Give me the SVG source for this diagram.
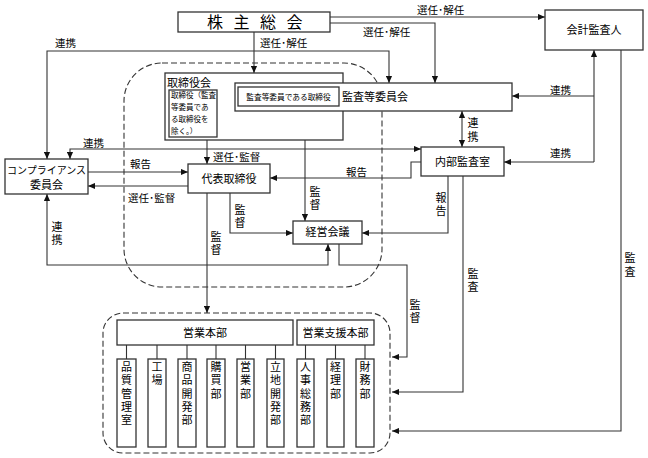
<svg xmlns="http://www.w3.org/2000/svg" width="648" height="458" viewBox="0 0 648 458">
<defs>
<marker id="ah" viewBox="0 0 8 8" refX="8" refY="4" markerWidth="7" markerHeight="7" markerUnits="userSpaceOnUse" orient="auto-start-reverse">
<path d="M0,0.5 L8,4 L0,7.5 Z" fill="#111"/>
</marker>
<style>
text{font-family:"Liberation Sans","Noto Sans CJK JP",sans-serif;fill:#000}
.box{fill:#fff;stroke:#333;stroke-width:1.3}
.dash{fill:none;stroke:#333;stroke-width:1.1;stroke-dasharray:6,3}
.c{fill:none;stroke:#333;stroke-width:1.1}
.a{marker-end:url(#ah)}
.b{marker-start:url(#ah);marker-end:url(#ah)}
.l{font-size:10.5px}
.n{font-size:11px;text-anchor:middle}
.v{font-size:11px;text-anchor:middle}
</style>
</defs>
<rect width="648" height="458" fill="#fff"/>

<g id="region-board">
<rect class="dash" x="124" y="63" width="258" height="224" rx="38" ry="38"/>
</g>
<g id="region-ops">
<rect class="dash" x="103" y="313" width="287" height="140" rx="20" ry="20"/>
</g>

<g id="connectors">
<polyline class="c a" points="330,17 545,17"/>
<polyline class="c a" points="330,23 435,23 435,83"/>
<polyline class="c a" points="254,32 254,73"/>
<polyline class="c b" points="389,83 389,51 47,51 47,159"/>
<polyline class="c b" points="70,159 70,149 421,149"/>
<polyline class="c a" points="207,140 207,164"/>
<polyline class="c a" points="305,140 305,221"/>
<polyline class="c a" points="238,99 217,99"/>
<polyline class="c b" points="462,111 462,147"/>
<polyline class="c" points="594,50 594,162" style="marker-start:url(#ah)"/>
<polyline class="c a" points="594,96 512,96"/>
<polyline class="c a" points="594,162 504,162"/>
<polyline class="c a" points="88,172 188,172"/>
<polyline class="c a" points="188,186 88,186"/>
<polyline class="c a" points="421,162 411,162 411,178 270,178"/>
<polyline class="c a" points="448,176 448,233 362,233"/>
<polyline class="c a" points="230,193 230,233 293,233"/>
<polyline class="c a" points="207,193 207,313"/>
<polyline class="c b" points="47,194 47,265 328,265 328,244"/>
<polyline class="c a" points="339,244 339,265 407,265 407,357 392,357"/>
<polyline class="c a" points="463,176 463,392 392,392"/>
<polyline class="c a" points="621,50 621,431 392,431"/>
<path class="c" d="M126.5,345V359M157,345V359M187,345V359M216,345V359M245.5,345V359M275.5,345V359M305.5,345V359M335.5,345V359M365,345V359"/>
</g>

<g id="labels">
<text class="l" x="417" y="14">選任･解任</text>
<text class="l" x="363" y="36">選任･解任</text>
<text class="l" x="260" y="47">選任･解任</text>
<text class="l" x="55" y="47">連携</text>
<text class="l" x="83" y="147">連携</text>
<text class="l" x="213" y="161">選任･監督</text>
<text class="l" x="218" y="125">監査･監督</text>
<text class="l" x="550" y="94">連携</text>
<text class="l" x="550" y="157">連携</text>
<text class="l" x="130" y="168">報告</text>
<text class="l" x="128" y="202">選任･監督</text>
<text class="l" x="346" y="176">報告</text>
<text class="v" x="473" y="127">連</text><text class="v" x="473" y="141">携</text>
<text class="v" x="315" y="196">監</text><text class="v" x="315" y="209">督</text>
<text class="v" x="441" y="202">報</text><text class="v" x="441" y="215">告</text>
<text class="v" x="240" y="214">監</text><text class="v" x="240" y="227">督</text>
<text class="v" x="216" y="241">監</text><text class="v" x="216" y="254">督</text>
<text class="v" x="57" y="231">連</text><text class="v" x="57" y="244">携</text>
<text class="v" x="415" y="309">監</text><text class="v" x="415" y="322">督</text>
<text class="v" x="473" y="278">監</text><text class="v" x="473" y="291">査</text>
<text class="v" x="630" y="262">監</text><text class="v" x="630" y="276">査</text>
</g>

<g id="kabunushi">
<rect class="box" x="178" y="12" width="152" height="20"/>
<text x="207" y="28" style="font-size:16px;letter-spacing:10.5px">株主総会</text>
</g>
<g id="kaikei">
<rect class="box" x="545" y="10" width="98" height="40"/>
<text class="n" x="594" y="34">会計監査人</text>
</g>
<g id="torishimariyakukai">
<rect class="box" x="165" y="73" width="178" height="67"/>
<text x="167" y="87" style="font-size:11px">取締役会</text>
</g>
<g id="torishimariyaku">
<rect class="box" x="169" y="90" width="48" height="47"/>
<text style="font-size:7.5px"><tspan x="171" y="98">取締役（監査</tspan><tspan x="171" y="110">等委員であ</tspan><tspan x="171" y="122">る取締役を</tspan><tspan x="171" y="134">除く。）</tspan></text>
</g>
<g id="kansatou">
<rect class="box" x="235" y="83" width="277" height="28"/>
<rect class="box" x="238" y="87" width="101" height="19"/>
<text x="288.5" y="99.5" style="font-size:7.7px;text-anchor:middle">監査等委員である取締役</text>
<text x="342" y="101" style="font-size:11px">監査等委員会</text>
</g>
<g id="compliance">
<rect class="box" x="5" y="159" width="83" height="35"/>
<text class="n" x="46.5" y="174" style="font-size:10px">コンプライアンス</text>
<text class="n" x="46.5" y="189">委員会</text>
</g>
<g id="daihyou">
<rect class="box" x="188" y="164" width="82" height="29"/>
<text class="n" x="229" y="183">代表取締役</text>
</g>
<g id="naibu">
<rect class="box" x="421" y="147" width="83" height="29"/>
<text class="n" x="462.5" y="166">内部監査室</text>
</g>
<g id="keiei">
<rect class="box" x="293" y="221" width="69" height="23"/>
<text class="n" x="327.5" y="236">経営会議</text>
</g>
<g id="eigyohonbu">
<rect class="box" x="117" y="320" width="176" height="25"/>
<text class="n" x="205" y="337">営業本部</text>
</g>
<g id="shienhonbu">
<rect class="box" x="297" y="320" width="77" height="25"/>
<text class="n" x="335.5" y="337">営業支援本部</text>
</g>
<g id="depts">
<rect class="box" x="117" y="359" width="19" height="88"/>
<rect class="box" x="148" y="359" width="18" height="88"/>
<rect class="box" x="178" y="359" width="18" height="88"/>
<rect class="box" x="207" y="359" width="18" height="88"/>
<rect class="box" x="237" y="359" width="17" height="88"/>
<rect class="box" x="267" y="359" width="17" height="88"/>
<rect class="box" x="297" y="359" width="17" height="88"/>
<rect class="box" x="327" y="359" width="17" height="88"/>
<rect class="box" x="356" y="359" width="18" height="88"/>
<text class="v"><tspan x="126.5" y="371">品</tspan><tspan x="126.5" dy="13.3">質</tspan><tspan x="126.5" dy="13.3">管</tspan><tspan x="126.5" dy="13.3">理</tspan><tspan x="126.5" dy="13.3">室</tspan></text>
<text class="v"><tspan x="157" y="371">工</tspan><tspan x="157" dy="13.3">場</tspan></text>
<text class="v"><tspan x="187" y="371">商</tspan><tspan x="187" dy="13.3">品</tspan><tspan x="187" dy="13.3">開</tspan><tspan x="187" dy="13.3">発</tspan><tspan x="187" dy="13.3">部</tspan></text>
<text class="v"><tspan x="216" y="371">購</tspan><tspan x="216" dy="13.3">買</tspan><tspan x="216" dy="13.3">部</tspan></text>
<text class="v"><tspan x="245.5" y="371">営</tspan><tspan x="245.5" dy="13.3">業</tspan><tspan x="245.5" dy="13.3">部</tspan></text>
<text class="v"><tspan x="275.5" y="371">立</tspan><tspan x="275.5" dy="13.3">地</tspan><tspan x="275.5" dy="13.3">開</tspan><tspan x="275.5" dy="13.3">発</tspan><tspan x="275.5" dy="13.3">部</tspan></text>
<text class="v"><tspan x="305.5" y="371">人</tspan><tspan x="305.5" dy="13.3">事</tspan><tspan x="305.5" dy="13.3">総</tspan><tspan x="305.5" dy="13.3">務</tspan><tspan x="305.5" dy="13.3">部</tspan></text>
<text class="v"><tspan x="335.5" y="371">経</tspan><tspan x="335.5" dy="13.3">理</tspan><tspan x="335.5" dy="13.3">部</tspan></text>
<text class="v"><tspan x="365" y="371">財</tspan><tspan x="365" dy="13.3">務</tspan><tspan x="365" dy="13.3">部</tspan></text>
</g>
</svg>
